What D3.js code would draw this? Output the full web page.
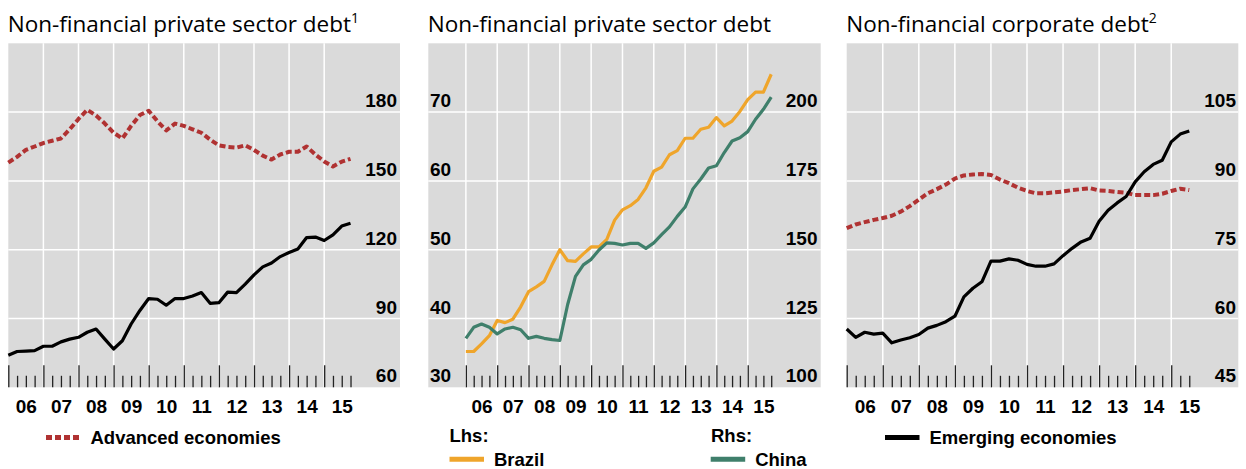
<!DOCTYPE html>
<html lang="en">
<head>
<meta charset="UTF-8">
<title>Debt</title>
<script src="https://cdn.jsdelivr.net/npm/d3@7"></script>
<style>
  body { margin: 0; background: #fff; }
  svg { display: block; }
  .title { font-family: "Open Sans", sans-serif; font-size: 22.5px; fill: #000; }
  .tick-lab { font-family: "Liberation Sans", Arial, sans-serif; font-weight: bold; font-size: 19px; fill: #000; }
  .leg { font-family: "Liberation Sans", Arial, sans-serif; font-weight: bold; font-size: 18.5px; fill: #000; }
</style>
</head>
<body>
<script>

var w = 1246;
var h = 469;
var top_ = 43.3, bottom = 387.3;

// quarterly data, first point 2006 Q1
var startYear = 2006;
var yearLabels = ["06", "07", "08", "09", "10", "11", "12", "13", "14", "15"];

// panel 1: non-financial private sector debt (% of GDP)
var advPrivate = [158, 160.5, 163.5, 165, 166.5, 167.5, 168.5, 172.5, 177, 181,
                  178.5, 175, 171, 168.5, 174, 178.7, 180.6, 176, 172, 175,
                  174, 172.5, 171, 168, 165.5, 164.8, 164.5, 165.5, 163.5, 161,
                  159.3, 161.5, 162.7, 162.7, 165, 161.5, 158.5, 156.3, 158.4, 159.6];
var emePrivate = [74, 75.6, 75.8, 76, 77.9, 77.9, 79.8, 81, 81.8, 84,
                  85.4, 81, 76.7, 80.3, 87.6, 93.5, 98.7, 98.4, 95.8, 98.7,
                  98.7, 99.8, 101.3, 96.6, 96.9, 101.5, 101.3, 105, 109, 112.5,
                  114.2, 117, 118.8, 120.3, 125.3, 125.5, 124, 126.5, 130.3, 131.5];

// panel 2: Brazil (lhs), China (rhs)
var brazil = [35.2, 35.2, 36.3, 37.5, 39.7, 39.4, 39.9, 41.7, 43.9, 44.6,
              45.4, 47.8, 50, 48.4, 48.3, 49.4, 50.4, 50.4, 51.5, 54.3,
              55.8, 56.4, 57.3, 59, 61.4, 62, 63.8, 64.4, 66.2, 66.2,
              67.5, 67.8, 69.2, 68, 68.7, 70.1, 71.8, 72.9, 72.9, 75.5];
var china = [117.8, 121.8, 123, 121.8, 119.4, 121.2, 121.8, 120.9, 117.8, 118.5,
             117.8, 117.3, 117, 130.1, 140.3, 144.5, 146.5, 149.9, 152.5, 152.3,
             151.7, 152.3, 152.3, 150.5, 152.5, 155.5, 158.3, 162.1, 165.5, 172.1,
             175.7, 179.7, 180.5, 185.3, 189.5, 190.7, 192.9, 197.4, 201, 205.4];

// panel 3: non-financial corporate debt
var advCorp = [79.7, 80.5, 81, 81.5, 81.9, 82.4, 83.3, 84.5, 85.9, 87.3,
               88.2, 89.2, 90.5, 91.2, 91.4, 91.5, 91.3, 90.3, 89.5, 88.5,
               87.8, 87.3, 87.3, 87.5, 87.7, 88, 88.2, 88.4, 87.9, 87.8,
               87.6, 87.4, 86.9, 86.9, 86.9, 87.2, 87.8, 88.3, 88];
var emeCorp = [57.7, 55.9, 57, 56.6, 56.8, 54.7, 55.3, 55.8, 56.5, 57.9,
               58.5, 59.3, 60.5, 64.7, 66.6, 68, 72.5, 72.5, 73, 72.7,
               71.8, 71.4, 71.4, 71.9, 73.7, 75.3, 76.7, 77.5, 81.2, 83.6,
               85.2, 86.6, 89.8, 92, 93.6, 94.5, 98.5, 100.2, 100.9];

var ticks1 = [60, 90, 120, 150, 180];
var ticks2L = [30, 40, 50, 60, 70];
var ticks2R = [100, 125, 150, 175, 200];
var ticks3 = [45, 60, 75, 90, 105];

var red = "#b03232", orange = "#efa52b", green = "#3f7f6b";

var svg = d3.select("body").append("svg")
    .attr("width", w)
    .attr("height", h);

function toSeries(vals) {
    return vals.map(function(v, i) { return {t: startYear + i / 4, v: v}; });
}

function panel(opt) {
    var x = d3.scaleLinear().domain(opt.xDomain).range([opt.x0, opt.x1]);
    var g = svg.append("g");

    g.append("rect")
        .attr("x", opt.x0).attr("y", top_)
        .attr("width", opt.x1 - opt.x0).attr("height", bottom - top_)
        .attr("fill", "#dadada");

    // horizontal grid
    g.selectAll(".hg").data(opt.gridY).enter().append("line")
        .attr("x1", opt.x0).attr("x2", opt.x1)
        .attr("y1", function(d) { return opt.y(d); })
        .attr("y2", function(d) { return opt.y(d); })
        .attr("stroke", "#fff").attr("stroke-width", 1.5);

    // vertical grid at year starts
    g.selectAll(".vg").data(opt.gridX).enter().append("line")
        .attr("x1", function(d) { return x(d); })
        .attr("x2", function(d) { return x(d); })
        .attr("y1", top_).attr("y2", bottom)
        .attr("stroke", "#fff").attr("stroke-width", 1.5);

    // year ticks (long) and quarter ticks (short)
    var majors = d3.range(2006, 2016);
    var minors = [];
    for (var i = 0; i < opt.nq; i++) {
        if (i % 4 != 0) minors.push(startYear + i / 4);
    }
    var axMaj = g.append("g").attr("transform", "translate(0," + bottom + ")")
        .call(d3.axisBottom(x).tickValues(majors).tickSize(-22).tickFormat(""));
    var axMin = g.append("g").attr("transform", "translate(0," + bottom + ")")
        .call(d3.axisBottom(x).tickValues(minors).tickSize(-11.5).tickFormat(""));
    [axMaj, axMin].forEach(function(a) {
        a.select(".domain").remove();
        a.selectAll("line").attr("stroke", "#222").attr("stroke-width", 1.3);
    });

    // year labels
    var axLab = g.append("g").attr("transform", "translate(0," + bottom + ")")
        .call(d3.axisBottom(x).tickValues(majors.map(function(d) { return d + 0.5; }))
            .tickSize(0).tickFormat(function(d, i) { return yearLabels[i]; }));
    axLab.select(".domain").remove();
    axLab.selectAll("text").attr("class", "tick-lab")
        .attr("font-size", null).attr("font-family", null)
        .attr("y", 26).attr("dy", null);

    // series
    opt.series.forEach(function(s) {
        var line = d3.line()
            .x(function(d) { return x(d.t); })
            .y(function(d) { return s.y(d.v); });
        g.append("path")
            .datum(toSeries(s.values))
            .attr("d", line)
            .attr("fill", "none")
            .attr("stroke", s.color)
            .attr("stroke-width", s.dash ? 4 : 3.2)
            .attr("stroke-dasharray", s.dash ? "6,3" : null)
            .attr("stroke-linejoin", "round");
    });

    // y labels sit just above their gridline
    opt.labels.forEach(function(l) {
        g.selectAll(null).data(l.ticks).enter().append("text")
            .attr("class", "tick-lab")
            .attr("x", l.x)
            .attr("y", function(d) { return l.y(d) - 5; })
            .attr("text-anchor", l.anchor)
            .text(function(d) { return d; });
    });

    // title
    var tt = g.append("text").attr("class", "title")
        .attr("x", opt.x0 - 0.5).attr("y", 31.5)
        .text(opt.title);
    if (opt.sup) {
        tt.append("tspan").attr("font-size", "14px").attr("dy", -9).text(opt.sup);
    }
    return g;
}

// panel 1
var y1 = d3.scaleLinear().domain([60, 210]).range([bottom, top_]);
panel({
    x0: 8.3, x1: 400, xDomain: [2006, 2017.16], nq: 40,
    y: y1, gridY: ticks1.slice(1), gridX: d3.range(2007, 2016),
    series: [
        {values: advPrivate, y: y1, color: red, dash: true},
        {values: emePrivate, y: y1, color: "#000"}
    ],
    labels: [{ticks: ticks1, y: y1, x: 397, anchor: "end"}],
    title: "Non-financial private sector debt", sup: "1"
});

// panel 2
var y2L = d3.scaleLinear().domain([30, 80]).range([bottom, top_]);
var y2R = d3.scaleLinear().domain([100, 225]).range([bottom, top_]);
panel({
    x0: 428.3, x1: 820.7, xDomain: [2004.8, 2017.33], nq: 40,
    y: y2L, gridY: ticks2L.slice(1), gridX: d3.range(2006, 2016),
    series: [
        {values: brazil, y: y2L, color: orange},
        {values: china, y: y2R, color: green}
    ],
    labels: [{ticks: ticks2L, y: y2L, x: 430, anchor: "start"},
             {ticks: ticks2R, y: y2R, x: 817.5, anchor: "end"}],
    title: "Non-financial private sector debt"
});

// panel 3
var y3 = d3.scaleLinear().domain([45, 120]).range([bottom, top_]);
panel({
    x0: 846.7, x1: 1238.3, xDomain: [2006, 2016.86], nq: 39,
    y: y3, gridY: ticks3.slice(1), gridX: d3.range(2007, 2016),
    series: [
        {values: advCorp, y: y3, color: red, dash: true},
        {values: emeCorp, y: y3, color: "#000"}
    ],
    labels: [{ticks: ticks3, y: y3, x: 1236, anchor: "end"}],
    title: "Non-financial corporate debt", sup: "2"
});

// legends
function legItem(x, y, color, dash, label) {
    svg.append("line")
        .attr("x1", x).attr("x2", x + 34.5)
        .attr("y1", y).attr("y2", y)
        .attr("stroke", color).attr("stroke-width", 5)
        .attr("stroke-dasharray", dash ? "6,3" : null);
    svg.append("text").attr("class", "leg")
        .attr("x", x + 44.5).attr("y", y + 6.3)
        .text(label);
}
legItem(46, 437.5, red, true, "Advanced economies");
legItem(885, 437.5, "#000", false, "Emerging economies");
svg.append("text").attr("class", "leg").attr("x", 449.5).attr("y", 441.7).text("Lhs:");
svg.append("text").attr("class", "leg").attr("x", 711).attr("y", 441.7).text("Rhs:");
legItem(449.5, 459.3, orange, false, "Brazil");
legItem(710.7, 459.3, green, false, "China");

</script>
</body>
</html>
